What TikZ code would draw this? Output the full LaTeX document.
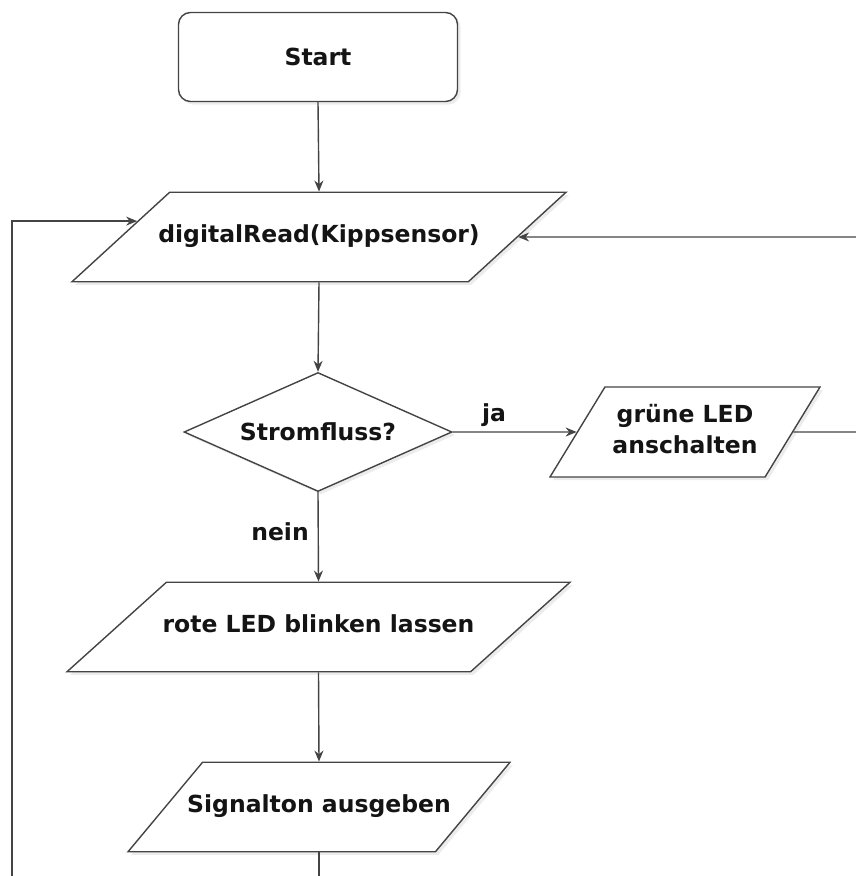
\documentclass[tikz,border=0pt]{standalone}
\usepackage{fontspec}
\setmainfont{DejaVu Sans}
\usepackage{tikz}
\usetikzlibrary{arrows.meta}
\usetikzlibrary{shapes.geometric}
\usetikzlibrary{shadows}
\usetikzlibrary{calc}

\definecolor{strichgrau}{HTML}{444444}
\definecolor{textschwarz}{HTML}{141414}

% Text ohne Breite, damit die Schraege nicht vom Text abhaengt
\newcommand{\zeile}[1]{\makebox[0pt]{#1}}

\tikzset{
	linie/.style={draw=strichgrau, line width=1.4pt},
	pfeil/.style={linie, -{Stealth[length=11pt,width=9pt]}},
	block/.style={draw=strichgrau, line width=1.4pt, fill=white, text=textschwarz,
		font=\bfseries\fontsize{23.5}{31}\selectfont, inner sep=0pt, align=center,
		drop shadow={shadow xshift=3pt, shadow yshift=-3pt, opacity=0.15}},
	startbox/.style={block, rectangle, rounded corners=12pt, minimum width=279pt, minimum height=89pt},
	para/.style 2 args={block, trapezium, trapezium left angle=#1, trapezium right angle=#2,
		trapezium stretches body, text height=17.5pt, text depth=6pt, inner ysep=33pt},
	raute/.style={block, diamond, shape aspect=2.25, minimum width=268pt, minimum height=119pt},
	beschriftung/.style={text=textschwarz, font=\bfseries\fontsize{23.5}{31}\selectfont, inner sep=0pt}
}

\begin{document}
\begin{tikzpicture}[x=1pt, y=-1pt]
		\useasboundingbox (0,0) rectangle (856,876);
		\clip (0,0) rectangle (856,876);

		% Ablauf
		\node[startbox] (start) at (318,57) {Start};
		\node[para={42.5}{137.5}, minimum width=494pt] (lesen) at (319,237) {\zeile{digitalRead(Kippsensor)}};
		\node[raute] (strom) at (318,432) {Stromfluss?};
		\node[para={58.6}{121.4}, minimum width=270pt, text height=48.5pt, text depth=6pt, inner ysep=17.75pt] (gruen) at (685,432) {\zeile{grüne LED}\\\zeile{anschalten}};
		\node[para={42}{138}, minimum width=503pt] (rot) at (318.5,627) {\zeile{rote LED blinken lassen}};
		\node[para={50.2}{129.8}, minimum width=382pt] (ton) at (319,807) {\zeile{Signalton ausgeben}};

		% Beschriftungen
		\node[beschriftung] (ja) at (494,415) {ja};
		\node[beschriftung] (nein) at (280,532) {nein};

		% Hilfspunkte ausserhalb des Bildes
		\coordinate (rechts) at (900,432);
		\coordinate (unten) at (319,920);
		\coordinate (links) at (12,920);

		% Verbindungen
		\draw[pfeil] (start.south) -- (lesen.90);
		\draw[pfeil] (lesen.-90) -- (strom.north);
		\draw[pfeil] (strom.east) -- (gruen.west);
		\draw[pfeil] (strom.south) -- (rot.90);
		\draw[pfeil] (rot.-90) -- (ton.90);
		\draw[pfeil] (gruen.east) -- (rechts) |- (lesen.east);
		\draw[pfeil] (ton.-90) -- (unten) -- (links) |- (lesen.175);
\end{tikzpicture}
\end{document}
